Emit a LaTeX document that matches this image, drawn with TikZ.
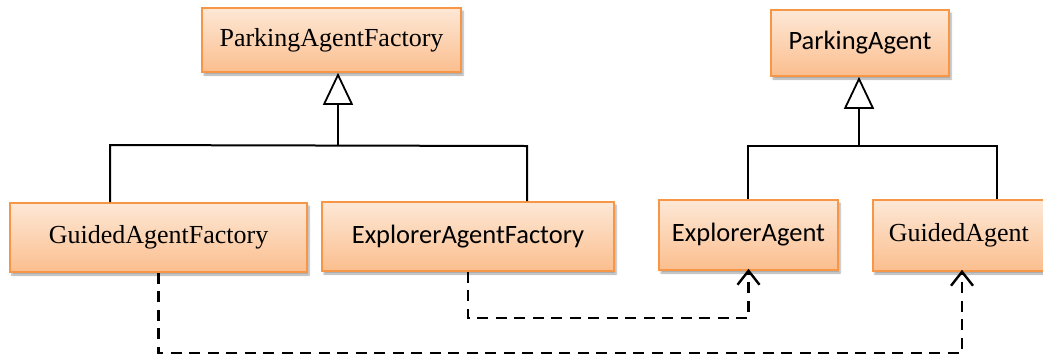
\documentclass[tikz,border=0pt]{standalone}
\usepackage{fontspec}
\usetikzlibrary{arrows.meta,shadows.blur}
\newfontfamily\serifface{Liberation Serif}
\newfontfamily\sansface{Carlito}
\definecolor{boxtop}{RGB}{253,232,214}
\definecolor{boxbot}{RGB}{251,190,142}
\definecolor{boxline}{RGB}{247,150,70}
\tikzset{
  classbox/.style={draw=boxline, line width=1.6pt, top color=boxtop, bottom color=boxbot,
    inner sep=0pt, align=center,
    blur shadow={shadow xshift=2pt, shadow yshift=-3pt, shadow blur steps=6, shadow opacity=35}},
  tms/.style={font=\serifface\fontsize{26}{30}\selectfont},
  cbr/.style={font=\sansface\fontsize{26.5}{30}\selectfont},
  inherit/.style={line width=2pt, -{Triangle[open, length=32pt, width=30pt, line width=1.8pt]}},
  plain/.style={line width=2pt},
  dep/.style={line width=2.6pt, dash pattern=on 11pt off 7.5pt,
    -{Straight Barb[length=14pt, width=22pt, line width=2.4pt]}},
}
\begin{document}
\begin{tikzpicture}[x=1pt, y=-1pt]
\useasboundingbox (0,0) rectangle (1043,360);
\clip (0,0) rectangle (1043,360);

% abstract classes
\node[classbox, tms, minimum width=259pt, minimum height=64pt] (PAF) at (331.5,40) {ParkingAgentFactory};
\node[classbox, cbr, minimum width=178pt, minimum height=66pt] (PA) at (860,43) {ParkingAgent};

% concrete classes
\node[classbox, tms, minimum width=297pt, minimum height=69pt] (GAF) at (158.5,237.5) {GuidedAgentFactory};
\node[classbox, cbr, minimum width=292pt, minimum height=69pt] (EAF) at (468,236.5) {ExplorerAgentFactory};
\node[classbox, cbr, minimum width=179pt, minimum height=70pt] (EA) at (748.5,235) {ExplorerAgent};
\node[classbox, tms, minimum width=180pt, minimum height=71pt, anchor=west] (GA) at (872,235.5) {\hspace*{-8pt}GuidedAgent};

% generalisation bars
\coordinate (j1) at (338,145);
\coordinate (l1) at (110,145);
\coordinate (r1) at (527,146);
\coordinate (j2) at (859,146);
\coordinate (l2) at (748,146);
\coordinate (r2) at (997,146);

\draw[inherit] (j1) -- (j1 |- PAF.south);
\draw[plain] (l1 |- GAF.north) -- (l1) -- (r1) -- (r1 |- EAF.north);
\draw[inherit] (j2) -- (j2 |- PA.south);
\draw[plain] (l2 |- EA.north) -- (l2) -- (r2) -- (r2 |- GA.north);

% factory-to-product dependencies
\coordinate (d1) at (0,318);
\coordinate (d2) at (0,353);
\coordinate (ga) at (962,0);
\draw[dep] (EAF.south) -- (EAF.south |- d1) -- (EA.south |- d1) -- ([yshift=2pt]EA.south);
\draw[dep] (GAF.south) -- (GAF.south |- d2) -- (ga |- d2) -- ([yshift=2pt]ga |- GA.south);
\end{tikzpicture}
\end{document}
